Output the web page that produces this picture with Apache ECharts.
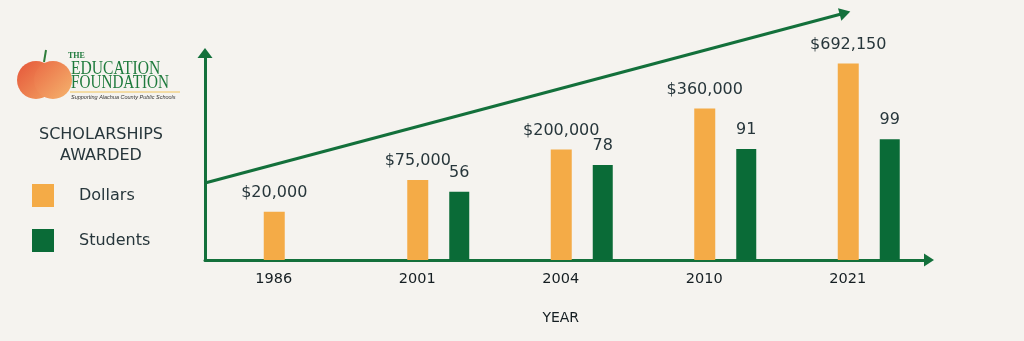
<!DOCTYPE html>
<html><head><meta charset="utf-8">
<script src="https://cdn.jsdelivr.net/npm/echarts@6/dist/echarts.min.js"></script>
<style>html,body{margin:0;padding:0;background:#F5F3EF}#c{width:1024px;height:341px}</style>
</head><body><div id="c"></div>
<script>
// ---- data ----
const years = ['1986', '2001', '2004', '2010', '2021'];
const dollarValues = [20000, 75000, 200000, 360000, 692150];
// the infographic's dollar bars are not drawn to a linear dollar scale;
// their drawn heights, read in the same units as the student axis:
const dollarBarHeights = [39.6, 65.6, 90.7, 124.3, 161.2];
const studentValues = [null, 56, 78, 91, 99];
const legendNames = ['Dollars', 'Students'];
const legendTitle = ['SCHOLARSHIPS', 'AWARDED'];
const xAxisTitle = 'YEAR';

const GREEN = '#0A6B37', ORANGE = '#F4AB47', TEXT = '#27363B', AXIS = '#13703B';
const FONT = '"DejaVu Sans"';
const chart = echarts.init(document.getElementById('c'), null, {renderer: 'canvas'});
const fmtDollar = v => '$' + v.toLocaleString('en-US');

const hidden = {show: false};
const appleFill = (a, b) => new echarts.graphic.LinearGradient(0, 0, 1, 1, [{offset: 0, color: a}, {offset: 1, color: b}]);
const option = {
  backgroundColor: '#F5F3EF',
  animation: false,
  grid: [
    {left: 205, top: 53, right: 95, bottom: 81},            // axis frame
    {left: 202, top: 60, width: 717.5, bottom: 81},         // bars
    {left: 205, top: 13, width: 640, height: 170}           // trend arrow
  ],
  xAxis: [
    {gridIndex: 0, type: 'value', min: 0, max: 1, axisLabel: hidden, axisTick: hidden, splitLine: hidden,
     axisLine: {show: true, onZero: false, symbol: ['none', 'triangle'], symbolSize: [13, 10], lineStyle: {color: AXIS, width: 3}}},
    {gridIndex: 1, type: 'category', data: years, axisLine: hidden, axisTick: hidden,
     axisLabel: {margin: 12, fontFamily: 'DejaVu Sans', fontSize: 14.5, color: '#151E22'},
     name: xAxisTitle, nameLocation: 'middle', nameGap: 51,
     nameTextStyle: {fontFamily: 'DejaVu Sans', fontSize: 14, color: '#151E22'}},
    {gridIndex: 2, type: 'value', min: 0, max: 1, show: false}
  ],
  yAxis: [
    {gridIndex: 0, type: 'value', min: 0, max: 1, axisLabel: hidden, axisTick: hidden, splitLine: hidden,
     axisLine: {show: true, onZero: false, symbol: ['none', 'triangle'], symbolSize: [15, 10], lineStyle: {color: AXIS, width: 3}}},
    {gridIndex: 1, type: 'value', min: 0, max: 164, show: false},
    {gridIndex: 2, type: 'value', min: 0, max: 1, show: false}
  ],
  legend: {
    data: legendNames, orient: 'vertical', left: 32, top: 184, padding: 0,
    itemWidth: 22, itemHeight: 23, itemGap: 22, icon: 'rect',
    textStyle: {fontFamily: 'DejaVu Sans', fontSize: 16, color: TEXT, padding: [0, 0, 0, 20]}
  },
  series: [
    {type: 'bar', name: '_slot', xAxisIndex: 1, yAxisIndex: 1, barWidth: 21, barGap: '100%',
     data: years.map(() => null), silent: true},
    {type: 'bar', name: legendNames[0], xAxisIndex: 1, yAxisIndex: 1, barWidth: 21, barGap: '100%',
     itemStyle: {color: ORANGE}, data: dollarBarHeights,
     label: {show: true, position: 'top', distance: 11, fontFamily: 'DejaVu Sans', fontSize: 16, color: TEXT,
             formatter: p => fmtDollar(dollarValues[p.dataIndex])}},
    {type: 'bar', name: legendNames[1], xAxisIndex: 1, yAxisIndex: 1, barWidth: 20, barGap: '100%',
     itemStyle: {color: GREEN}, data: studentValues,
     label: {show: true, position: 'top', distance: 11, fontFamily: 'DejaVu Sans', fontSize: 16, color: TEXT}},
    {type: 'line', name: '_trend', xAxisIndex: 2, yAxisIndex: 2, data: [[0, 0], [1, 1]],
     showSymbol: false, lineStyle: {opacity: 0}, silent: true,
     markLine: {silent: true, symbol: ['none', 'triangle'], symbolSize: [13, 11], label: hidden,
       lineStyle: {color: AXIS, width: 3, type: 'solid'},
       data: [[{coord: [0, 0]}, {coord: [1, 1]}]]}}
  ],
  graphic: [
    // legend heading
    {type: 'text', style: {x: 101, y: 135, text: legendTitle[0], textAlign: 'center', textVerticalAlign: 'middle',
      font: '16px ' + FONT, fill: TEXT}},
    {type: 'text', style: {x: 101, y: 156, text: legendTitle[1], textAlign: 'center', textVerticalAlign: 'middle',
      font: '16px ' + FONT, fill: TEXT}},
    // logo (decorative)
    {type: 'circle', shape: {cx: 36, cy: 80, r: 19}, style: {fill: appleFill('#E5563A', '#F2A060')}},
    {type: 'circle', shape: {cx: 53, cy: 80, r: 19}, style: {fill: appleFill('#EA6A44', '#F5B46E')}},
    {type: 'line', shape: {x1: 44, y1: 62, x2: 46, y2: 50}, style: {stroke: '#2E7D3A', lineWidth: 2}},
    {type: 'text', x: 68, y: 56, style: {text: 'THE', font: 'bold 8px "Liberation Serif"', fill: '#1E7A3C', textVerticalAlign: 'middle'}},
    {type: 'text', x: 71, y: 69, scaleX: 0.82, style: {text: 'EDUCATION', font: '19px "Liberation Serif"', fill: '#1E7A3C', textVerticalAlign: 'middle'}},
    {type: 'text', x: 71, y: 83, scaleX: 0.8, style: {text: 'FOUNDATION', font: '19px "Liberation Serif"', fill: '#1E7A3C', textVerticalAlign: 'middle'}},
    {type: 'line', shape: {x1: 70, y1: 92, x2: 180, y2: 92}, style: {stroke: '#F2C55C', lineWidth: 1}},
    {type: 'text', style: {x: 71, y: 97, text: 'Supporting Alachua County Public Schools', font: 'italic 5.5px "Liberation Sans"', fill: '#333', textVerticalAlign: 'middle'}}
  ]
};
chart.setOption(option);
</script>
</body></html>
